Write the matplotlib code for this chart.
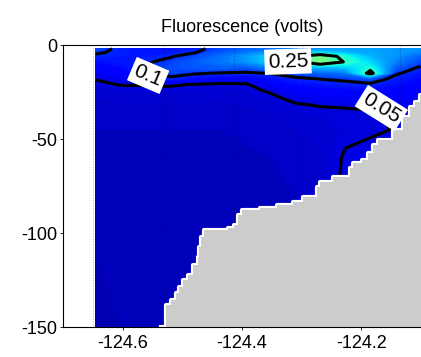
import numpy as np
import matplotlib
matplotlib.use('Agg')
import matplotlib.pyplot as plt

plt.rcParams['font.family'] = ['Liberation Sans', 'DejaVu Sans']
plt.rcParams['axes.unicode_minus'] = False

title = 'Fluorescence (volts)'

# station / grid longitudes (deg E)
lons = [-124.645, -124.603, -124.562, -124.520, -124.478, -124.436, -124.394,
        -124.352, -124.310, -124.269, -124.227, -124.185, -124.143, -124.101]
# depth levels (m)
depths = [2, 4, 6, 9, 12, 15, 18, 21, 24, 28, 32, 36, 45, 60, 80, 110, 150]

# fluorescence (volts): one row per depth, one value per longitude
fluor = [
    [0.115, 0.092, 0.085, 0.080, 0.090, 0.115, 0.130, 0.140, 0.150, 0.160, 0.165, 0.170, 0.165, 0.160],
    [0.105, 0.092, 0.087, 0.088, 0.099, 0.125, 0.145, 0.165, 0.190, 0.200, 0.185, 0.175, 0.165, 0.150],
    [0.092, 0.090, 0.090, 0.097, 0.115, 0.140, 0.165, 0.200, 0.245, 0.290, 0.230, 0.180, 0.160, 0.130],
    [0.080, 0.085, 0.096, 0.110, 0.130, 0.145, 0.160, 0.200, 0.240, 0.300, 0.246, 0.200, 0.150, 0.115],
    [0.070, 0.078, 0.099, 0.118, 0.125, 0.130, 0.125, 0.150, 0.170, 0.180, 0.190, 0.230, 0.130, 0.095],
    [0.060, 0.068, 0.090, 0.112, 0.104, 0.098, 0.095, 0.102, 0.120, 0.130, 0.145, 0.270, 0.105, 0.085],
    [0.051, 0.058, 0.066, 0.093, 0.075, 0.066, 0.062, 0.080, 0.093, 0.101, 0.107, 0.120, 0.090, 0.078],
    [0.046, 0.051, 0.051, 0.052, 0.049, 0.047, 0.048, 0.062, 0.078, 0.085, 0.090, 0.095, 0.080, 0.072],
    [0.043, 0.045, 0.046, 0.046, 0.045, 0.044, 0.045, 0.053, 0.066, 0.072, 0.075, 0.080, 0.072, 0.068],
    [0.040, 0.042, 0.042, 0.042, 0.042, 0.041, 0.042, 0.046, 0.056, 0.060, 0.062, 0.065, 0.065, 0.065],
    [0.038, 0.039, 0.039, 0.039, 0.039, 0.039, 0.040, 0.042, 0.048, 0.051, 0.052, 0.054, 0.060, 0.062],
    [0.036, 0.037, 0.037, 0.037, 0.037, 0.037, 0.038, 0.040, 0.044, 0.046, 0.047, 0.048, 0.053, 0.060],
    [0.035, 0.035, 0.035, 0.035, 0.035, 0.035, 0.036, 0.037, 0.040, 0.042, 0.046, 0.046, 0.051, 0.058],
    [0.034, 0.033, 0.033, 0.033, 0.033, 0.034, 0.034, 0.035, 0.037, 0.039, 0.052, 0.060, 0.055, 0.056],
    [0.032, 0.032, 0.032, 0.032, 0.032, 0.033, 0.033, 0.034, 0.035, 0.037, 0.055, 0.060, 0.050, 0.055],
    [0.030, 0.031, 0.031, 0.031, 0.031, 0.032, 0.032, 0.033, 0.034, 0.035, 0.050, 0.050, 0.050, 0.050],
    [0.030, 0.030, 0.030, 0.030, 0.030, 0.030, 0.030, 0.030, 0.030, 0.030, 0.040, 0.040, 0.040, 0.045],
]

contour_levels = [0.05, 0.1, 0.25]
label_lons = [-124.1665, -124.5573, -124.3230]
label_depths = [33.5, 16.2, 8.8]
label_rot = [-32, -23, 2]

station_lons = [-124.649, -124.530, -124.414, -124.297, -124.136]

# bottom depth along the section
bathy_lon = [-124.5364, -124.5280, -124.5197, -124.5113, -124.5063, -124.4996, -124.4912,
             -124.4828, -124.4745, -124.4728, -124.4695, -124.4644, -124.4243, -124.4142,
             -124.4059, -124.3992, -124.3690, -124.3406, -124.3138, -124.2971, -124.2736,
             -124.2686, -124.2469, -124.2184, -124.2134, -124.1983, -124.1883, -124.1799,
             -124.1715, -124.1464, -124.1297, -124.1180, -124.1096, -124.1013, -124.0900]
bathy_depth = [150, 138.3, 135.6, 131.9, 128.7, 125.0, 122.3, 117.0, 112.8, 107.4, 102.1,
               98.4, 97.3, 95.7, 90.4, 87.8, 86.7, 85.1, 83.5, 80.9, 75.5, 72.9, 70.2,
               65.4, 62.8, 61.2, 57.4, 53.2, 50.5, 45.2, 38.3, 33.0, 30.3, 26.6, 26.6]

xticks = [-124.6, -124.4, -124.2]
yticks = [0, -50, -100, -150]

fig = plt.figure(figsize=(4.21, 3.57), dpi=100)
ax = fig.add_axes([63 / 421, 30 / 357, 358 / 421, 282 / 357])

Z = np.array(fluor)
X, Y = np.meshgrid(lons, -np.array(depths, dtype=float))
ax.contourf(X, Y, Z, levels=np.arange(0, 0.6001, 0.005), cmap='jet',
            vmin=0, vmax=0.6, extend='both', zorder=1)

for s in station_lons:
    ax.axvline(s, color='k', alpha=0.3, lw=0.7, ls=':', zorder=2)

ax.contour(X, Y, Z, levels=contour_levels, colors='k', linewidths=2.2, zorder=3)

bd = -np.array(bathy_depth)
ax.step(bathy_lon, bd, where='post', color='white', lw=3, zorder=3.5)
ax.fill_between(bathy_lon, bd, -150, step='post', facecolor=(0.8, 0.8, 0.8),
                edgecolor='none', lw=0, zorder=4)

for lev, lx, ld, rot in zip(contour_levels, label_lons, label_depths, label_rot):
    ax.text(lx, -ld, f'{lev:g}', rotation=rot, ha='center', va='center',
            fontsize=15, rotation_mode='anchor', zorder=5,
            bbox=dict(boxstyle='square,pad=0.15', fc='white', ec='none'))

ax.set_xlim(-124.7, -124.1)
ax.set_ylim(-150, 0)
ax.set_xticks(xticks)
ax.set_xticklabels([f'{t:g}' for t in xticks])
ax.set_yticks(yticks)
ax.set_yticklabels([f'{t:g}' for t in yticks])
ax.tick_params(axis='x', direction='out', length=2.5, width=0.6, pad=3, labelsize=13)
ax.tick_params(axis='y', direction='out', length=2.5, width=0.6, pad=1.5, labelsize=13)
ax.spines['right'].set_visible(False)
for sp in ['left', 'top', 'bottom']:
    ax.spines[sp].set_linewidth(0.8)
    ax.spines[sp].set_zorder(6)
ax.set_title(title, fontsize=13, pad=9)

fig.savefig('out.png', dpi=100)
